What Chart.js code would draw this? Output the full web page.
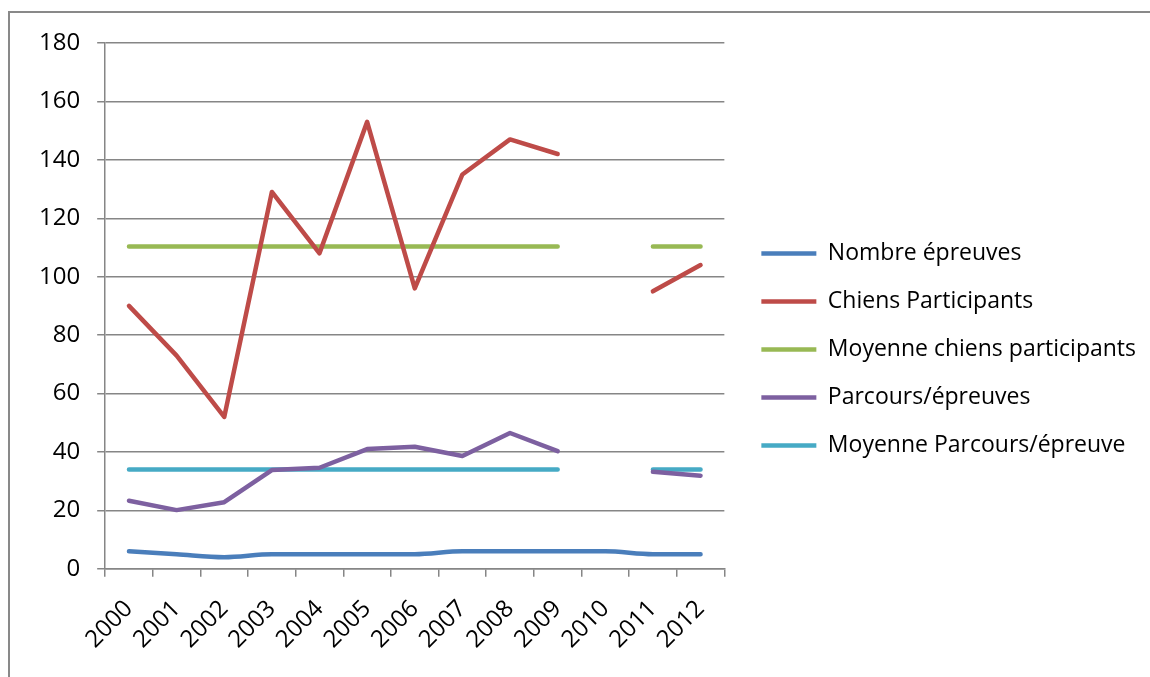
<!DOCTYPE html>
<html>
<head>
<meta charset="utf-8">
<script src="https://cdn.jsdelivr.net/npm/chart.js@4.4.0/dist/chart.umd.min.js"></script>
<style>
  html, body { margin: 0; padding: 0; background: #fff; overflow: hidden; }
  #wrap { position: relative; width: 1150px; height: 677px; }
  #frame { position: absolute; left: 8px; top: 11px; width: 2000px; height: 2000px; border: 2px solid #898989; }
  #chart { position: absolute; left: 0; top: 0; }
</style>
</head>
<body>
<div id="wrap">
  <div id="frame"></div>
  <canvas id="chart" width="1150" height="677"></canvas>
</div>
<script>
const years = ['2000', '2001', '2002', '2003', '2004', '2005', '2006', '2007', '2008', '2009', '2010', '2011', '2012'];
const nombreEpreuves = [6, 5, 4, 5, 5, 5, 5, 6, 6, 6, 6, 5, 5];
const chiensParticipants = [90, 73, 52, 129, 108, 153, 96, 135, 147, 142, null, 95, 104];
const moyenneChiens = [110.3, 110.3, 110.3, 110.3, 110.3, 110.3, 110.3, 110.3, 110.3, 110.3, null, 110.3, 110.3];
const parcoursEpreuves = [23.3, 20.1, 22.8, 33.8, 34.6, 41, 41.8, 38.6, 46.5, 40.3, null, 33.2, 31.9];
const moyenneParcours = [34, 34, 34, 34, 34, 34, 34, 34, 34, 34, null, 34, 34];
const yTicks = { min: 0, max: 180, step: 20 };

const fontFamily = '"Open Sans", "Noto Sans", sans-serif';
const gridColor = '#868686';

function line(label, data, color, smooth) {
  return {
    label: label,
    data: data,
    borderColor: color,
    backgroundColor: color,
    borderWidth: 4.5,
    borderCapStyle: 'round',
    borderJoinStyle: 'round',
    pointRadius: 0,
    pointHoverRadius: 0,
    fill: false,
    spanGaps: false,
    tension: smooth ? 0.4 : 0,
    cubicInterpolationMode: smooth ? 'monotone' : 'default'
  };
}

// let the legend be wider than half the free width, and nudge it like the original
const legendTweak = {
  id: 'legendTweak',
  afterInit(chart) {
    const lg = chart.legend;
    const upd = lg.update;
    lg.update = function(w, h, m) { return upd.call(this, 440, h, m); };
  },
  afterLayout(chart) {
    const lg = chart.legend;
    lg.left += 12; lg.right += 12;
    lg.top -= 8; lg.bottom -= 8;
  }
};

new Chart(document.getElementById('chart'), {
  type: 'line',
  data: {
    labels: years,
    datasets: [
      line('Nombre épreuves', nombreEpreuves, '#4A7EBB', true),
      line('Chiens Participants', chiensParticipants, '#BE4B48'),
      line('Moyenne chiens participants', moyenneChiens, '#98B954'),
      line('Parcours/épreuves', parcoursEpreuves, '#7D60A0'),
      line('Moyenne Parcours/épreuve', moyenneParcours, '#46AAC5')
    ]
  },
  options: {
    responsive: false,
    animation: false,
    devicePixelRatio: 1,
    layout: { padding: { left: 22, top: 43, right: 16, bottom: 5 } },
    plugins: {
      tooltip: { enabled: false },
      legend: {
        position: 'right',
        labels: {
          usePointStyle: true,
          pointStyle: 'line',
          pointStyleWidth: 55,
          padding: 25,
          color: '#000',
          font: { family: fontFamily, size: 23 }
        }
      }
    },
    scales: {
      x: {
        offset: true,
        grid: { drawOnChartArea: false, drawTicks: true, tickLength: 8, color: gridColor, lineWidth: 1.5, offset: true },
        border: { color: gridColor, width: 1.5 },
        ticks: { color: '#000', minRotation: 45, maxRotation: 45, padding: 18, font: { family: fontFamily, size: 24 } }
      },
      y: {
        min: yTicks.min,
        max: yTicks.max,
        grid: { color: gridColor, lineWidth: 1.5, tickLength: 8 },
        border: { color: gridColor, width: 1.5 },
        ticks: { stepSize: yTicks.step, color: '#000', padding: 17, font: { family: fontFamily, size: 24 } }
      }
    }
  },
  plugins: [legendTweak]
});
</script>
</body>
</html>
